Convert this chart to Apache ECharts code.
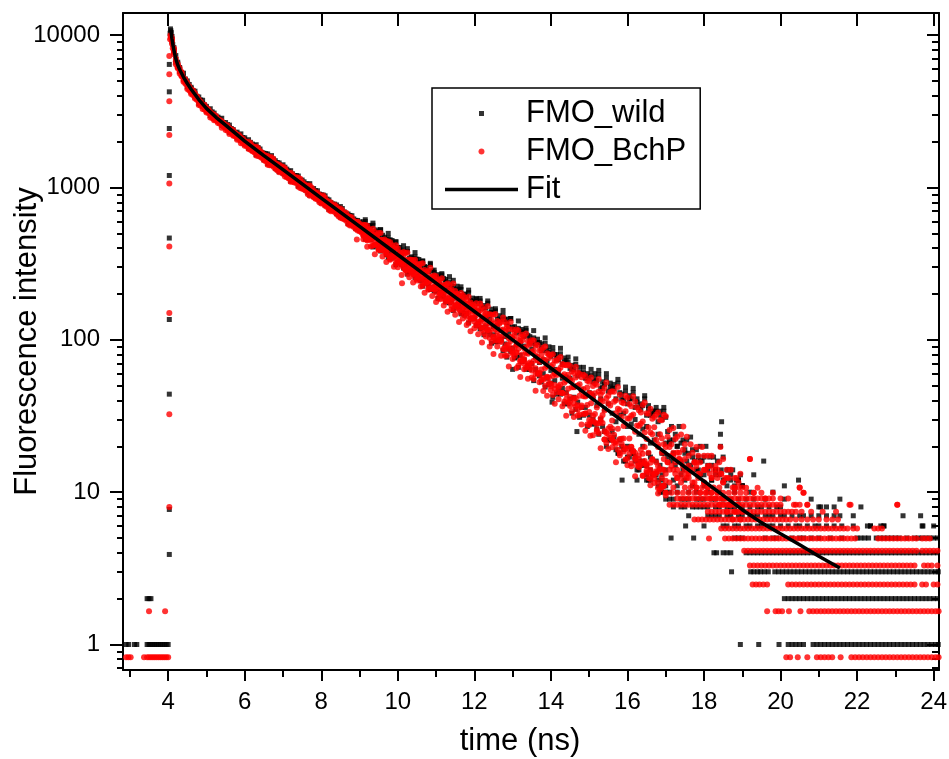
<!DOCTYPE html>
<html><head><meta charset="utf-8">
<script src="https://cdn.jsdelivr.net/npm/echarts@6.0.0/dist/echarts.min.js"></script>
<style>html,body{margin:0;padding:0;background:#fff}#c{width:949px;height:759px}</style>
</head><body><div id="c"></div><script>
// ---------- tick labels ----------
const xTickLabels = [4,6,8,10,12,14,16,18,20,22,24];
const xMinorTicks = [3,5,7,9,11,13,15,17,19,21,23];
const yTickLabels = [1,10,100,1000,10000];
const yMinorTicks = [0.7,0.8,0.9,2,3,4,5,6,7,8,9,20,30,40,50,60,70,80,90,200,300,400,500,600,700,800,900,2000,3000,4000,5000,6000,7000,8000,9000];

// ---------- main decay band (time in ns) ----------
const bandTimes = [4.1,4.2,4.3,4.4,4.5,4.6,4.7,4.8,4.9,5.0,5.1,5.2,5.3,5.4,5.5,5.6,5.7,5.8,5.9,6.0,
6.1,6.2,6.3,6.4,6.5,6.6,6.7,6.8,6.9,7.0,7.1,7.2,7.3,7.4,7.5,7.6,7.7,7.8,7.9,8.0,8.1,8.2,8.3,8.4,8.5,8.6,8.7,8.8,8.9,9.0,
9.1,9.2,9.3,9.4,9.5,9.6,9.7,9.8,9.9,10.0,10.1,10.2,10.3,10.4,10.5,10.6,10.7,10.8,10.9,11.0,11.1,11.2,11.3,11.4,11.5,11.6,11.7,11.8,11.9,12.0,
12.1,12.2,12.3,12.4,12.5,12.6,12.7,12.8,12.9,13.0,13.1,13.2,13.3,13.4,13.5,13.6,13.7,13.8,13.9,14.0,14.1,14.2,14.3,14.4,14.5,14.6,14.7,14.8,14.9,15.0,
15.1,15.2,15.3,15.4,15.5,15.6,15.7,15.8,15.9,16.0,16.1,16.2,16.3,16.4,16.5,16.6,16.7,16.8,16.9,17.0];
const bandTimes2 = [4.15,4.25,4.35,4.45,4.55,4.65,4.75,4.85,4.95,5.05,5.15,5.25,5.35,5.45,5.55,5.65,5.75,5.85,5.95,6.05,
6.15,6.25,6.35,6.45,6.55,6.65,6.75,6.85,6.95,7.05,7.15,7.25,7.35,7.45,7.55,7.65,7.75,7.85,7.95,8.05,8.15,8.25,8.35,8.45,8.55,8.65,8.75,8.85,8.95,9.05,
9.15,9.25,9.35,9.45,9.55,9.65,9.75,9.85,9.95,10.05,10.15,10.25,10.35,10.45,10.55,10.65,10.75,10.85,10.95,11.05,11.15,11.25,11.35,11.45,11.55,11.65,11.75,11.85,11.95,12.05,
12.15,12.25,12.35,12.45,12.55,12.65,12.75,12.85,12.95,13.05,13.15,13.25,13.35,13.45,13.55,13.65,13.75,13.85,13.95,14.05,14.15,14.25,14.35,14.45,14.55,14.65,14.75,14.85,14.95,15.05,
15.15,15.25,15.35,15.45,15.55,15.65,15.75,15.85,15.95,16.05,16.15,16.25,16.35,16.45,16.55,16.65,16.75,16.85,16.95];
const lateTimes = bandTimes.slice(50);    // 9.1 … 17.0
const lateTimes2 = bandTimes2.slice(50);  // 9.15 … 16.95
const tailTimes = [17.05,17.1,17.15,17.2,17.25,17.3,17.35,17.4,17.45,17.5,17.55,17.6,17.65,17.7,17.75,17.8,17.85,17.9,17.95,18.0,
18.05,18.1,18.15,18.2,18.25,18.3,18.35,18.4,18.45,18.5,18.55,18.6,18.65,18.7,18.75,18.8,18.85,18.9,18.95,19.0];

const wildHi = [9820,7350,6140,5630,5010,4550,4290,3930,3740,3410,3290,3080,2900,2850,2670,2570,2400,2310,2250,2120,
2060,1930,1910,1790,1680,1660,1620,1500,1450,1410,1320,1290,1200,1190,1120,1060,1060,985,952,896,882,830,780,768,750,692,670,653,609,595,
596,556,557,515,485,486,457,454,412,405,382,378,343,342,339,308,303,280,283,262,253,253,228,227,213,215,194,192,181,179,
173,161,162,150,151,137,136,136,122,121,111,114,105,107,95,94,96,85,85,78,80,74,69,73,65,64,58,60,56,57,
53,54,48,51,46,48,41,45,40,38,41,36,36,37,32,32,34,29,30,31];
const wildMid = [9440,6930,6020,5310,4720,4460,4090,3740,3570,3310,3070,2965,2850,2660,2570,2470,2310,2220,2080,2018,
1940,1820,1800,1690,1590,1570,1520,1410,1370,1320,1230,1230,1150,1090,1070,1010,988,910,899,853,809,799,750,704,695,659,645,599,586,556,
548,500,499,487,445,434,424,383,386,362,361,325,324,314,289,283,279,252,251,236,233,210,211,207,188,186,180,164,162,157,
154,137,139,138,122,124,116,105,111,101,93,97,91,83,87,77,71,74,72,63,64,63,56,57,56,49,50,47,43,45,
43,37,41,35,38,33,29,32,33,27,28,30,24,26,27,21,22,24,18,21];
const wildLo = [9060,6650,5780,5100,4580,4290,3930,3550,3420,3180,2970,2850,2740,2560,2470,2300,2260,2110,2040,1920,
1810,1750,1640,1610,1520,1430,1410,1340,1270,1240,1180,1100,1090,1020,993,961,891,873,846,793,768,720,713,675,640,626,581,569,539,523,
489,459,455,417,409,396,363,359,352,322,312,305,280,278,263,244,247,229,221,208,206,192,178,179,167,166,152,149,138,139,
129,120,122,108,108,98,101,94,87,88,77,79,74,68,70,64,58,60,56,52,54,47,48,45,41,42,39,36,36,32,
30,26,30,25,22,25,19,22,19,17,19,16,14,16,13,12,13,11,12,10];
const wildUp2 = [8290,6650,5680,5160,4750,4340,3970,3760,3490,3250,3140,2950,2810,2660,2590,2440,2300,2210,2130,2010,
1980,1880,1830,1700,1670,1580,1540,1460,1380,1360,1280,1230,1200,1120,1090,1050,977,954,906,893,840,798,778,738,728,671,656,622,608,577,
599,549,565,513,528,459,467,437,440,389,388,397,345,350,323,329,288,312,277,259,267,241,240,246,210,214,198,204,176,184,
180,163,174,151,155,135,145,130,138,117,119,112,115,99,103,96,88,95,83,83,75,81,71,71,64,69,61,61,56,59,
56,59,49,56,49,48,52,41,46,41,45,39,35,41,35,32,34,32,34];
const wildDn2 = [7970,6270,5570,4960,4480,4170,3890,3550,3350,3190,2950,2830,2700,2600,2430,2340,2250,2130,2010,1930,
1810,1750,1640,1590,1540,1440,1400,1310,1300,1220,1180,1110,1090,1030,993,922,911,864,819,802,760,713,705,661,640,619,576,562,534,517,
458,459,407,412,383,392,347,344,311,322,296,270,280,257,252,225,236,214,210,187,197,177,175,156,164,148,145,129,137,124,
118,108,114,95,97,98,85,77,84,76,66,72,64,64,54,60,53,49,51,42,44,44,38,38,33,35,31,32,27,28,
28,24,27,20,22,23,18,20,16,17,18,14,15,15,12,13,13,10,11];
const wildHigh3 = [615,564,584,527,528,472,500,449,440,404,415,380,351,374,337,329,299,318,287,268,272,249,260,224,225,223,200,212,188,187,
187,168,180,159,160,144,156,137,138,122,133,117,119,105,115,101,94,103,90,89,80,88,76,77,68,75,66,66,60,64,
60,63,53,60,52,51,55,44,49,43,48,41,38,43,37,34,36,34,36];
const wildTailA = [25,21,27,22,24,20,27,21,22,18,22,18,23,19,16,19,17,20,16,17,
20,14,17,15,17,14,16,13,14,17,12,14,14,12,14,11,12,12,13,11];

const bchpHi = [9530,7000,6080,5260,4870,4420,4170,3780,3490,3340,3130,3020,2820,2720,2540,2450,2380,2220,2140,2018,
2000,1880,1850,1740,1640,1610,1580,1450,1410,1370,1280,1250,1160,1160,1090,1030,1030,957,926,870,858,806,758,747,729,672,651,635,592,578,
569,561,518,510,503,452,445,438,401,398,371,372,337,332,315,316,287,283,261,262,246,229,234,215,209,195,196,182,176,166,
165,164,149,147,146,133,131,131,118,117,117,105,105,97.8,99.4,91.3,85.2,88.8,81.7,79.5,73.1,75.3,69.3,68.1,67.3,60.5,61.3,56.9,57.6,53.1,
49.7,50.7,44.0,48.3,42.9,45.9,40.2,43.6,38.4,41.6,36.6,39.4,34.5,37.3,33.0,35.3,31.2,33.3,29.7,31.5];
const bchpMid = [9160,6720,5780,5100,4680,4200,3970,3630,3420,3180,3040,2820,2710,2610,2470,2380,2210,2150,2040,1960,
1900,1810,1770,1640,1600,1520,1490,1380,1340,1290,1220,1200,1130,1090,1020,992,969,901,881,836,792,783,735,711,667,646,632,587,574,545,
532,495,494,459,458,417,408,399,363,362,340,335,308,305,286,286,260,254,246,227,228,212,207,193,192,178,175,162,158,154,
150,137,140,128,128,114,115,114,102,103,93.0,97.4,88.0,80.9,84.0,78.9,71.9,74.6,67.4,67.2,60.0,63.4,57.9,53.8,55.2,48.9,50.2,46.3,42.5,44.6,
41.5,35.9,40.3,34.4,38.4,29.5,33.0,34.6,27.2,30.5,31.8,24.9,27.2,29.1,22.3,24.6,26.7,20.6,22.6,19.8];
const bchpLo = [8780,6440,5600,4940,4430,4110,3840,3480,3280,3110,2880,2760,2650,2470,2390,2250,2190,2060,1950,1880,
1790,1730,1620,1590,1510,1410,1400,1330,1260,1230,1170,1090,1080,1010,982,951,882,864,837,785,760,713,705,668,633,619,575,563,534,517,
484,449,450,421,391,391,367,340,348,319,312,289,289,271,251,252,236,218,221,205,201,186,186,169,167,157,156,142,139,132,
132,121,124,112,104,106,96.9,89.4,92.0,83.0,82.5,73.5,74.8,69.1,63.0,65.0,59.3,54.7,56.5,51.5,47.5,48.4,44.7,40.6,42.1,38.3,34.8,36.1,32.8,29.8,
29.3,25.0,29.1,22.2,24.0,19.7,20.7,17.5,19.7,16.6,14.8,16.5,14.6,12.8,13.8,12.2,12.3,10.6,10.9,9.9];
const bchpUp2 = [8050,6330,5630,5010,4520,4210,3930,3580,3390,3220,2980,2860,2730,2630,2460,2370,2280,2150,2030,1950,
1920,1820,1780,1660,1620,1530,1500,1420,1340,1320,1240,1200,1170,1090,1050,1020,949,927,880,868,816,775,756,717,708,651,638,604,591,560,
568,524,536,490,502,438,443,418,418,375,377,374,333,335,312,318,278,297,265,249,254,230,229,234,201,203,190,192,170,174,
173,157,166,146,148,130,140,126,131,113,115,108,110,95.7,98.9,92.5,85.6,90.4,80.0,80.4,72.8,77.2,68.4,68.7,62.3,66.6,59.6,58.9,53.8,56.6,
51.7,55.4,45.6,52.5,45.4,45.6,49.1,38.9,43.0,37.9,42.7,36.1,33.3,38.8,32.7,30.3,32.2,29.8,32.2];
const bchpDn2 = [7720,6070,5400,4810,4340,4040,3770,3440,3250,3090,2860,2750,2620,2520,2360,2270,2180,2060,1950,1870,
1770,1710,1610,1560,1510,1400,1370,1300,1270,1180,1150,1090,1070,993,972,902,892,845,801,785,744,698,690,647,627,606,563,551,523,506,
469,469,417,421,387,400,359,352,318,329,299,273,286,260,257,227,238,217,214,189,199,179,177,158,166,150,147,130,138,125,
121,110,116,97.0,99.2,100,87.0,79.0,85.9,78.3,67.6,73.8,65.5,65.2,55.4,60.6,54.4,50.0,52.0,43.4,45.3,45.0,39.3,38.7,34.0,36.5,32.2,32.6,27.8,29.1,
28.7,24.4,28.5,21.0,22.8,23.8,19.0,20.7,16.4,17.9,18.6,14.9,15.2,15.5,12.4,13.0,13.3,10.4,11.0];
const bchpF1 = [8210,6460,5740,5110,4615,4340,3970,3655,3490,3250,3045,2950,2780,2630,2560,2410,2275,2210,2090,1970,
1960,1840,1810,1700,1600,1580,1540,1420,1380,1340,1240,1220,1160,1140,1050,1030,996,918,897,885,816,798,771,724,681,684,644,604,596,560,
542,534,489,485,453,455,407,406,396,365,360,332,336,311,300,279,280,260,255,240,225,228,213,201,199,185,174,173,165,156,
156,144,147,134,123,127,117,120,105,106,99.5,99.0,89.6,93.2,84.6,77.3,79.8,73.0,76.0,68.9,63.0,65.5,59.5,59.1,53.6,56.7,51.1,47.6,48.6,44.5,
44.6,45.8,39.4,41.3,37.0,39.2,35.3,31.3,34.0,30.4,32.4,27.4,28.1,24.6,26.6,24.0,22.1,24.0,20.6];
const bchpF2 = [7890,6200,5510,4910,4430,4170,3810,3510,3350,3120,2920,2830,2670,2520,2460,2320,2180,2130,2010,1890,
1830,1710,1690,1590,1490,1470,1440,1330,1280,1250,1150,1140,1080,1070,982,961,930,854,836,827,760,744,719,675,634,639,600,562,557,522,
495,459,465,426,422,383,395,364,340,340,316,315,280,284,269,266,238,242,224,219,214,190,191,187,171,169,166,152,148,145,
132,132,116,118,117,105,106,92.8,98.2,89.1,87.3,80.1,81.9,71.0,72.8,73.5,63.8,65.3,56.7,58.1,58.8,50.9,52.2,47.8,48.9,41.4,43.0,42.6,37.3,38.3,
32.6,28.3,32.1,24.5,26.9,21.2,26.1,22.4,19.2,22.5,18.6,15.9,19.0,16.0,13.5,16.3,13.7,14.2,11.0];
const bchpF3 = [489,454,460,421,391,400,375,348,359,326,319,292,296,271,266,244,252,231,216,217,201,201,180,181,171,160,161,149,138,139,
126,116,119,103,105,98.8,99.2,86.1,87.8,81.0,82.5,71.7,73.0,67.4,68.7,59.6,60.8,56.1,57.2,49.6,50.6,49.6,44.7,43.9,39.5,41.3,37.2,37.0,32.8,33.6,
31.7,28.1,30.6,25.1,26.1,26.2,21.4,22.3,22.5,19.4,19.9,16.8,17.5,17.9,15.2,15.6,13.1,13.7,14.1,11.9];
const bchpLow3 = [458,408,411,365,395,353,325,336,302,300,267,286,258,238,245,224,204,213,194,177,185,168,153,159,146,131,138,125,114,119,
109,95.9,105,90.3,80.6,90.4,78.7,78.5,66.9,75.0,65.2,57.0,64.2,55.6,56.6,46.4,52.6,46.2,42.9,46.9,38.1,40.7,36.7,31.8,36.8,31.2,31.9,27.8,25.3,27.6,
23.6,25.7,19.4,22.2,19.2,22.3,15.7,18.1,18.5,15.0,15.4,12.7,15.1,12.8,13.4,11.1,11.5,9.8,10.9,9.5];
const bchpTailA = [23.13,25.6,20.65,26.43,22.3,23.13,18.17,23.95,19.0,20.65,23.13,17.35,20.65,18.17,15.69,19.82,17.35,15.69,19.82,17.35,
14.04,17.35,14.87,17.35,14.04,14.87,12.39,15.69,13.22,16.52,12.39,14.04,12.39,14.04,10.74,12.39,12.39,10.74,13.22,10.74];
const bchpTailB = [15.69,14.04,17.35,14.04,15.69,12.39,16.52,13.22,12.39,14.04,12.39,13.22,10.74,14.04,11.56,10.74,12.39,9.91,10.74,11.56,
9.91,10.74,9.09,9.91,10.74,9.09,9.91,8.26,9.09,8.26,9.09,7.43,8.26,8.26,6.61,7.43,7.43,8.26,6.61,7.43];

// ---------- rising edge and peak ----------
const wildEdgeTimes = [4.03,4.03,4.03,4.03,4.03,4.03,4.03,4.03,4.03,4.05,4.06,4.07,4.08,4.12,4.15,4.25,4.35];
const wildEdgeVals  = [3.9,7.7,44,136,466,1200,2440,4250,6430,10300,11000,10700,10400,8700,7900,6500,5650];
const bchpEdgeTimes = [4.03,4.03,4.03,4.03,4.03,4.03,4.03,4.03,4.03,4.05,4.06,4.07,4.08,4.12,4.15,4.25,4.35];
const bchpEdgeVals  = [8.0,32.5,150,410,1064,2210,3690,5550,7300,9400,10000,9800,9500,8200,7500,6150,5400];

// ---------- scattered points / outliers ----------
const wildOutTimes = [13.0,14.03,14.68,15.77,15.9,15.86,16.25,16.5,16.9,18.46,18.43,18.43,19.56,20.47,21.55,23.66,23.72,22.7,22.35,
17.1,17.2,17.3,17.5,17.6,17.7,17.9,18.0,18.1,18.3,18.5,18.7,19.0,19.3,19.8,20.1,20.8,21.0,21.9,22.1,23.2,24.0,17.4,17.8,18.2,18.9];
const wildOutVals = [64,39,25,18,16,12,12,12,11,29,24,20,16,12,9,7,6,6,6,
22,18,20,19,15,17,16,13,15,14,12,13,11,13,10,11,9,8,7,8,7,6,16,14,12,12];
const bchpOutTimes = [8.93,10.11,13.29,15.03,15.6,17.46,18.43,19.2,20.5,20.6,21.83,23.05,
17.1,17.2,17.3,17.5,17.6,17.8,17.9,18.0,18.2,18.3,18.5,18.6,18.8,18.9,19.1,19.3,19.4,19.6,19.8,20.0,20.2,20.4,20.7];
const bchpOutVals = [455,235,70,23.5,22,27,19.8,16.5,10.7,9.9,8.26,8.26,
19.8,17.3,18.2,16.5,14.9,15.7,13.2,14.0,12.4,13.2,11.6,12.4,10.7,11.6,10.7,9.9,10.7,9.1,9.9,9.1,9.1,8.26,8.26];

// ---------- low-count levels (counts are discrete) ----------
const wildRowLevels = [1,2,3,4,5,6,7,8,9,10,11,12,13,14,15,16,17,18,20];
const wildRowTimes = [
 [2.9,2.97,3.12,3.18,3.45,3.5,3.55,3.6,3.65,3.7,3.75,3.8,3.85,3.9,3.95,4.0,18.95,19.43,19.96,20.2,20.3,20.4,20.5,20.6,20.85,20.95,21.05,21.15,21.25,21.35,21.45,21.55,21.65,21.75,21.85,21.95,22.05,22.15,22.25,22.35,22.45,22.55,22.65,22.75,22.85,22.95,23.05,23.15,23.25,23.35,23.45,23.55,23.65,23.75,23.85,23.95,24.05,24.12],
 [3.45,3.5,3.55,20.1,20.2,20.3,20.4,20.5,20.6,20.7,20.8,20.9,21.0,21.1,21.2,21.3,21.4,21.5,21.6,21.7,21.8,21.9,22.0,22.1,22.2,22.3,22.4,22.5,22.6,22.7,22.8,22.9,23.0,23.1,23.2,23.3,23.4,23.5,23.6,23.7,23.8,23.9,24.0,24.1],
 [18.72,19.22,19.3,19.4,19.48,19.58,19.68,19.85,19.95,20.05,20.15,20.25,20.35,20.45,20.55,20.65,20.75,20.85,20.95,21.05,21.15,21.25,21.35,21.45,21.55,21.65,21.75,21.85,21.95,22.05,22.15,22.25,22.35,22.45,22.55,22.65,22.75,22.85,22.95,23.05,23.15,23.25,23.35,23.45,23.55,23.65,23.75,23.85,23.95,24.05,24.12],
 [18.26,18.33,18.5,18.6,18.7,19.1,19.2,19.3,19.4,19.5,19.6,19.7,19.8,19.9,20.0,20.1,20.2,20.3,20.4,20.5,20.6,20.7,20.8,20.9,21.0,21.1,21.2,21.3,21.4,21.5,21.6,21.7,21.8,21.9,22.0,22.1,22.2,22.3,22.4,22.5,22.6,22.7,22.8,22.9,23.0,23.1,23.2,23.3,23.4,23.5,23.6,23.7,23.8,23.9,24.0,24.1],
 [17.14,17.73,18.8,18.9,19.0,19.6,19.8,19.9,20.3,20.5,20.6,20.8,21.0,21.3,21.6,22.0,22.1,22.2,22.3,22.5,22.6,22.7,22.8,22.9,23.0,23.1,23.3,23.5,23.6,23.7,23.8,23.9,24.0,24.1],
 [17.52,18.0,18.5,18.6,18.8,18.9,19.1,19.2,19.4,19.5,19.7,19.8,20.0,20.2,20.4,20.5,20.7,20.9,21.0,21.2,21.4,21.6,21.9,22.27,22.35,22.62,22.7,23.7],
 [17.6,18.1,18.2,18.3,18.4,18.6,18.7,18.9,19.0,19.2,19.3,19.4,19.6,19.7,19.8,20.0,20.1,20.3,20.5,20.6,20.8,21.0,21.2,21.4,21.55],
 [17.2,17.4,17.5,17.7,17.8,17.9,18.0,18.1,18.3,18.4,18.6,18.7,18.8,19.0,19.2,19.4,19.5,19.7,19.9,20.0,21.05,21.2,21.4],
 [17.0,17.1,17.2,17.4,17.5,17.6,17.8,17.9,18.0,18.2,18.3,18.5,18.7,18.9,19.1,19.3,19.6,20.1],
 [16.9,17.1,17.3,17.6,17.8,18.1,18.4,18.8,19.2],
 [17.0,17.3,17.7,18.0,18.6,19.0],
 [16.8,17.2,17.5,18.2,18.9],
 [16.9,17.4,17.9,18.3],
 [16.6,17.0,17.45,17.85,18.3],
 [16.5,16.85,17.25,17.65],
 [16.3,16.75,17.15,17.55],
 [16.2,16.6,17.05],
 [16.15,16.55,16.95],
 [16.0,16.4]
];
const bchpRowLevels = [0.826,1.652,2.478,3.304,4.13,4.956,5.782,6.608,7.434,8.26,9.086,9.912,10.74,11.56,12.39,13.22,14.04,14.87,15.69,16.52,18.17,19.82];
const bchpRowTimes = [
 [2.9,2.96,3.02,3.37,3.45,3.5,3.55,3.6,3.65,3.7,3.75,3.8,3.85,3.9,3.95,4.0,20.15,20.25,20.45,20.7,20.95,21.05,21.15,21.25,21.35,21.57,21.85,21.95,22.05,22.15,22.25,22.35,22.45,22.55,22.65,22.75,22.85,22.95,23.05,23.15,23.25,23.35,23.45,23.55,23.65,23.75,23.85,23.95,24.05,24.13],
 [3.5,3.92,19.65,19.87,19.95,20.04,20.22,20.52,20.75,20.85,20.95,21.05,21.15,21.25,21.35,21.45,21.55,21.65,21.75,21.85,21.95,22.05,22.15,22.25,22.35,22.45,22.55,22.65,22.75,22.85,22.95,23.05,23.15,23.25,23.35,23.45,23.55,23.65,23.75,23.85,23.95,24.05,24.13],
 [19.27,19.36,19.45,19.55,19.65,20.2,20.3,20.4,20.5,20.6,20.7,20.8,20.9,21.0,21.1,21.2,21.3,21.4,21.5,21.6,21.7,21.8,21.9,22.0,22.1,22.2,22.3,22.4,22.5,22.6,22.7,22.8,22.9,23.0,23.1,23.2,23.3,23.4,23.5,23.7,23.8,24.0,24.1],
 [19.2,19.3,19.4,19.5,19.6,19.7,19.8,19.9,20.0,20.1,20.2,20.3,20.4,20.5,20.6,20.7,20.8,20.9,21.0,21.1,21.2,21.3,21.4,21.5,21.6,21.7,21.8,21.9,22.0,22.1,22.2,22.3,22.4,22.5,22.6,22.7,22.8,22.9,23.0,23.1,23.2,23.3,23.4,23.5,23.75,23.85,23.95,24.1],
 [19.05,19.15,19.25,19.35,19.45,19.55,19.65,19.75,19.85,19.95,20.05,20.15,20.25,20.35,20.45,20.55,20.65,20.75,20.85,20.95,21.05,21.15,21.25,21.35,21.45,21.55,21.65,21.75,21.85,21.95,22.05,22.15,22.25,22.35,22.45,22.55,22.65,22.75,22.85,22.95,23.05,23.15,23.25,23.35,23.45,23.55,23.7,23.8,23.9,24.0,24.1],
 [18.13,18.55,18.65,18.75,18.85,18.95,19.05,19.15,19.25,19.35,19.45,19.55,19.65,19.75,19.85,19.95,20.05,20.15,20.25,20.35,20.45,20.55,20.65,20.75,20.85,20.95,21.05,21.15,21.25,21.35,21.45,21.55,21.65,21.75,21.85,21.95,22.55,22.65,22.75,22.85,22.95,23.05,23.15,23.25,23.35,23.45,23.55,23.7,23.8,23.9],
 [18.45,18.55,18.65,18.75,18.85,18.95,19.05,19.15,19.25,19.35,19.45,19.55,19.65,19.75,19.85,19.95,20.05,20.15,20.25,20.35,20.45,20.55,20.65,20.75,20.85,20.95,21.05,21.15,21.25,21.35,21.45,21.55,21.65,21.75,21.9,22.0,22.45,22.55,22.65],
 [17.75,17.85,17.95,18.05,18.15,18.25,18.35,18.45,18.55,18.65,18.75,18.85,18.95,19.05,19.15,19.25,19.35,19.45,19.55,19.65,19.75,19.85,19.95,20.05,20.15,20.25,20.4,20.55,20.7,20.85,21.0,21.2,21.35,21.5],
 [18.1,18.2,18.3,18.4,18.5,18.6,18.7,18.8,18.9,19.0,19.1,19.2,19.3,19.4,19.5,19.6,19.7,19.8,19.9,20.0,20.1,20.2,20.3,20.4,20.55,20.8,21.1,21.45],
 [17.1,17.2,17.3,17.4,17.5,17.6,17.7,17.8,17.9,18.0,18.1,18.2,18.3,18.4,18.5,18.6,18.7,18.8,18.9,19.0,19.1,19.2,19.3,19.4,19.5,19.6,19.7,19.8,19.9,20.0,20.35,20.5,20.7,21.8,23.05],
 [17.3,17.4,17.5,17.6,17.7,17.8,17.9,18.0,18.1,18.2,18.3,18.4,18.5,18.6,18.7,18.8,18.9,19.0,19.1,19.2,19.3,19.4,19.5,19.6,19.7,19.8],
 [17.0,17.15,17.3,17.45,17.6,17.75,17.9,18.05,18.2,18.35,18.5,18.65,18.8,18.95,19.1,19.3,19.5,20.6],
 [16.9,17.2,17.5,17.8,18.1,18.4,18.8,20.5],
 [16.8,17.1,17.4,17.7,18.0,18.5],
 [16.9,17.3,17.6,18.2],
 [16.7,17.0,17.25,17.55,17.85,18.15,18.45],
 [16.6,16.95,17.3,17.65,18.0,18.35],
 [16.5,16.8,17.15,17.45,17.8,18.1],
 [16.4,16.75,17.05,17.4,17.75],
 [16.3,16.65,16.95,17.35,19.2],
 [16.2,16.55,16.9,17.2],
 [16.1,16.45,16.8]
];

// ---------- fit curve ----------
const fitTimes = [4.07,4.1,4.13,4.16,4.2,4.25,4.3,4.4,4.5,4.6,4.8,5.0,5.25,5.5,5.75,6.0,6.5,7.0,8.0,9.0,10.0,11.0,12.0,13.0,14.0,15.0,16.0,17.0,18.0,19.0,19.5,20.0,20.5,21.0,21.55];
const fitVals  = [10800,9440,8510,7760,7000,6380,5960,5310,4820,4420,3780,3310,2890,2570,2275,2018,1622,1309,853,556,362,236,154,100,65.3,42.6,27.7,18.1,11.8,7.67,6.31,5.33,4.52,3.80,3.18];

// ---------- build ----------
function pairs(ts, vs) { return ts.map((t, i) => [t, vs[i]]).filter(p => p[1] != null); }
function rows(levels, times) { return times.flatMap((ts, i) => ts.map(t => [t, levels[i]])); }

const wildData = [].concat(
  pairs(wildEdgeTimes, wildEdgeVals),
  pairs(lateTimes2, wildHigh3),
  pairs(tailTimes, wildTailA),
  pairs(bandTimes, wildHi), pairs(bandTimes, wildMid), pairs(bandTimes, wildLo),
  pairs(bandTimes2, wildUp2), pairs(bandTimes2, wildDn2),
  pairs(wildOutTimes, wildOutVals),
  rows(wildRowLevels, wildRowTimes));
const bchpData = [].concat(
  pairs(bchpEdgeTimes, bchpEdgeVals),
  pairs(lateTimes, bchpLow3), pairs(lateTimes, bchpF3),
  pairs(bandTimes, bchpHi), pairs(bandTimes, bchpMid), pairs(bandTimes, bchpLo),
  pairs(bandTimes2, bchpUp2), pairs(bandTimes2, bchpDn2),
  pairs(bandTimes2, bchpF1), pairs(bandTimes2, bchpF2),
  pairs(tailTimes, bchpTailA), pairs(tailTimes, bchpTailB),
  pairs(bchpOutTimes, bchpOutVals),
  rows(bchpRowLevels, bchpRowTimes));
const fitData = pairs(fitTimes, fitVals);

const FONT = '"Liberation Sans", Arial, Helvetica, sans-serif';
const XMIN = 2.82, XMAX = 24.14, YMIN = 0.68, YMAX = 13990;
const black = '#000000', red = '#ff0000';
const axLine = {show: true, onZero: false, lineStyle: {color: black, width: 2}};
const noLine = {show: false, onZero: false};

const chart = echarts.init(document.getElementById('c'), null, {width: 949, height: 759});
chart.setOption({
  animation: false,
  backgroundColor: '#ffffff',
  grid: {left: 123, right: 10, top: 13, bottom: 89, containLabel: false, outerBoundsMode: 'none'},
  legend: {
    orient: 'vertical', left: 432, top: 88,
    padding: [10, 14, 4, 13],
    itemWidth: 73, itemHeight: 24, itemGap: 7,
    borderColor: black, borderWidth: 1.5, backgroundColor: '#ffffff', borderRadius: 0,
    textStyle: {fontFamily: FONT, fontSize: 31, color: black, padding: [0, 0, 0, 3]},
    data: [
      {name: 'FMO_wild', icon: 'path://M0,0M73,24M34,9.5L39,9.5L39,14.5L34,14.5Z'},
      {name: 'FMO_BchP', icon: 'path://M0,0M73,24M33.5,12C33.5,10.3 34.8,9 36.5,9C38.2,9 39.5,10.3 39.5,12C39.5,13.7 38.2,15 36.5,15C34.8,15 33.5,13.7 33.5,12Z'},
      {name: 'Fit', icon: 'path://M0,0M73,24M0,10.3L73,10.3L73,13.7L0,13.7Z'}
    ]
  },
  xAxis: [
    {type: 'value', position: 'bottom', min: XMIN, max: XMAX,
     axisLine: axLine,
     axisTick: {show: true, inside: false, length: 11, lineStyle: {color: black, width: 2}, customValues: xTickLabels},
     axisLabel: {show: true, customValues: xTickLabels, margin: 20, fontSize: 24, fontFamily: FONT, color: black},
     splitLine: {show: false},
     name: 'time (ns)', nameLocation: 'middle', nameGap: 56, nameMoveOverlap: false,
     nameTextStyle: {fontSize: 31, fontFamily: FONT, color: black, padding: [0, 22, 0, 0]}},
    {type: 'value', position: 'bottom', min: XMIN, max: XMAX,
     axisLine: noLine,
     axisTick: {show: true, inside: false, length: 7, lineStyle: {color: black, width: 2}, customValues: xMinorTicks},
     axisLabel: {show: false}, splitLine: {show: false}},
    {type: 'value', position: 'top', min: XMIN, max: XMAX,
     axisLine: axLine,
     axisTick: {show: true, inside: true, length: 13, lineStyle: {color: black, width: 2}, customValues: xTickLabels},
     axisLabel: {show: false}, splitLine: {show: false}}
  ],
  yAxis: [
    {type: 'log', logBase: 10, position: 'left', min: YMIN, max: YMAX,
     axisLine: axLine,
     axisTick: {show: true, inside: false, length: 13, lineStyle: {color: black, width: 2}, customValues: yTickLabels},
     axisLabel: {show: true, customValues: yTickLabels, margin: 23, fontSize: 24, fontFamily: FONT, color: black,
                 formatter: v => String(Math.round(v))},
     splitLine: {show: false},
     name: 'Fluorescence intensity', nameLocation: 'middle', nameGap: 80, nameMoveOverlap: false,
     nameTextStyle: {fontSize: 31, fontFamily: FONT, color: black}},
    {type: 'log', logBase: 10, position: 'left', min: YMIN, max: YMAX,
     axisLine: noLine,
     axisTick: {show: true, inside: false, length: 6, lineStyle: {color: black, width: 2}, customValues: yMinorTicks},
     axisLabel: {show: false}, splitLine: {show: false}},
    {type: 'log', logBase: 10, position: 'right', min: YMIN, max: YMAX,
     axisLine: axLine,
     axisTick: {show: true, inside: true, length: 12, lineStyle: {color: black, width: 2}, customValues: yTickLabels},
     axisLabel: {show: false}, splitLine: {show: false}},
    {type: 'log', logBase: 10, position: 'right', min: YMIN, max: YMAX,
     axisLine: noLine,
     axisTick: {show: true, inside: true, length: 7, lineStyle: {color: black, width: 2}, customValues: yMinorTicks},
     axisLabel: {show: false}, splitLine: {show: false}}
  ],
  series: [
    {name: 'FMO_wild', type: 'scatter', xAxisIndex: 0, yAxisIndex: 0, symbol: 'rect', symbolSize: 5,
     itemStyle: {color: black}, data: wildData, z: 2, large: false, progressive: 0, emphasis: {disabled: true}},
    {name: 'FMO_BchP', type: 'scatter', xAxisIndex: 0, yAxisIndex: 0, symbol: 'circle', symbolSize: 6,
     itemStyle: {color: red}, data: bchpData, z: 3, large: false, progressive: 0, emphasis: {disabled: true}},
    {name: 'Fit', type: 'line', xAxisIndex: 0, yAxisIndex: 0, symbol: 'none', showSymbol: false,
     lineStyle: {color: black, width: 3.5}, itemStyle: {color: black}, data: fitData, z: 4, smooth: false}
  ]
});
</script></body></html>
